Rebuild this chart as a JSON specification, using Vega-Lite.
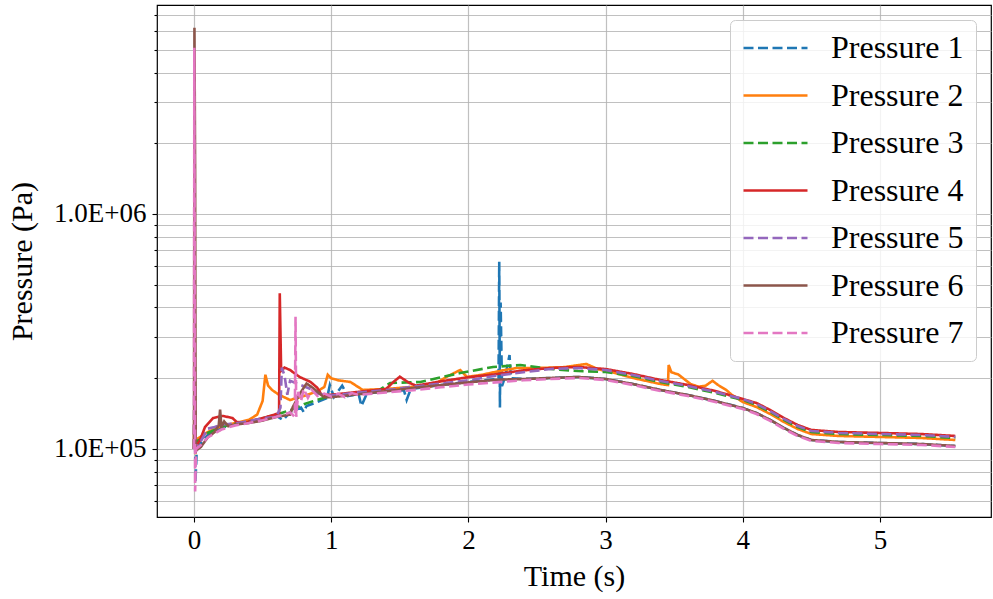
{
"$schema": "https://vega.github.io/schema/vega-lite/v6.json",
"width": 834, "height": 512,
"autosize": {"type": "none"},
"padding": {"left": 157, "top": 5, "right": 2, "bottom": 82},
"background": "white",
"config": {"view": {"stroke": "#000", "strokeWidth": 1.2}, "font": "Liberation Serif"},
"datasets": {
"d": [
{"s":"Pressure 1","t":0,"p":100000},{"s":"Pressure 1","t":0.004,"p":300000},{"s":"Pressure 1","t":0.01,"p":72000},{"s":"Pressure 1","t":0.02,"p":100000},{"s":"Pressure 1","t":0.05,"p":106000},{"s":"Pressure 1","t":0.1,"p":114700},{"s":"Pressure 1","t":0.2,"p":122900},{"s":"Pressure 1","t":0.3,"p":127800},{"s":"Pressure 1","t":0.4,"p":130300},{"s":"Pressure 1","t":0.5,"p":132900},{"s":"Pressure 1","t":0.6,"p":138200},{"s":"Pressure 1","t":0.65,"p":133000},{"s":"Pressure 1","t":0.7,"p":143700},{"s":"Pressure 1","t":0.78,"p":150000},{"s":"Pressure 1","t":0.8,"p":143500},{"s":"Pressure 1","t":0.82,"p":152400},{"s":"Pressure 1","t":0.9,"p":158500},{"s":"Pressure 1","t":0.97,"p":165000},{"s":"Pressure 1","t":0.99,"p":187000},{"s":"Pressure 1","t":1.02,"p":166400},{"s":"Pressure 1","t":1.08,"p":186000},{"s":"Pressure 1","t":1.12,"p":168000},{"s":"Pressure 1","t":1.2,"p":171400},{"s":"Pressure 1","t":1.22,"p":152400},{"s":"Pressure 1","t":1.26,"p":172000},{"s":"Pressure 1","t":1.4,"p":176500},{"s":"Pressure 1","t":1.53,"p":178000},{"s":"Pressure 1","t":1.55,"p":161600},{"s":"Pressure 1","t":1.58,"p":180000},{"s":"Pressure 1","t":1.8,"p":187200},{"s":"Pressure 1","t":2.0,"p":192800},{"s":"Pressure 1","t":2.22,"p":198500},{"s":"Pressure 1","t":2.225,"p":626000},{"s":"Pressure 1","t":2.23,"p":150000},{"s":"Pressure 1","t":2.235,"p":420000},{"s":"Pressure 1","t":2.245,"p":185000},{"s":"Pressure 1","t":2.27,"p":205000},{"s":"Pressure 1","t":2.3,"p":251000},{"s":"Pressure 1","t":2.31,"p":200000},{"s":"Pressure 1","t":2.4,"p":198500},{"s":"Pressure 1","t":2.6,"p":200500},{"s":"Pressure 1","t":2.8,"p":202500},{"s":"Pressure 1","t":3.0,"p":198500},{"s":"Pressure 1","t":3.2,"p":189000},{"s":"Pressure 1","t":3.4,"p":178300},{"s":"Pressure 1","t":3.6,"p":169700},{"s":"Pressure 1","t":3.8,"p":160100},{"s":"Pressure 1","t":4.0,"p":149400},{"s":"Pressure 1","t":4.1,"p":142300},{"s":"Pressure 1","t":4.2,"p":132900},{"s":"Pressure 1","t":4.3,"p":122900},{"s":"Pressure 1","t":4.4,"p":114700},{"s":"Pressure 1","t":4.5,"p":109200},{"s":"Pressure 1","t":4.7,"p":107100},{"s":"Pressure 1","t":5.0,"p":106050},{"s":"Pressure 1","t":5.3,"p":105000},{"s":"Pressure 1","t":5.55,"p":103000},

{"s":"Pressure 2","t":0,"p":100000},{"s":"Pressure 2","t":0.004,"p":240000},{"s":"Pressure 2","t":0.01,"p":95000},{"s":"Pressure 2","t":0.02,"p":110000},{"s":"Pressure 2","t":0.05,"p":113000},{"s":"Pressure 2","t":0.1,"p":118000},{"s":"Pressure 2","t":0.2,"p":125300},{"s":"Pressure 2","t":0.3,"p":129000},{"s":"Pressure 2","t":0.4,"p":133000},{"s":"Pressure 2","t":0.46,"p":140000},{"s":"Pressure 2","t":0.5,"p":160000},{"s":"Pressure 2","t":0.52,"p":207000},{"s":"Pressure 2","t":0.54,"p":186000},{"s":"Pressure 2","t":0.57,"p":178000},{"s":"Pressure 2","t":0.62,"p":170000},{"s":"Pressure 2","t":0.7,"p":161600},{"s":"Pressure 2","t":0.8,"p":168000},{"s":"Pressure 2","t":0.9,"p":176000},{"s":"Pressure 2","t":0.95,"p":183600},{"s":"Pressure 2","t":0.975,"p":207000},{"s":"Pressure 2","t":1.0,"p":200000},{"s":"Pressure 2","t":1.05,"p":196000},{"s":"Pressure 2","t":1.14,"p":192800},{"s":"Pressure 2","t":1.23,"p":178300},{"s":"Pressure 2","t":1.4,"p":180000},{"s":"Pressure 2","t":1.6,"p":184000},{"s":"Pressure 2","t":1.72,"p":183600},{"s":"Pressure 2","t":1.84,"p":202500},{"s":"Pressure 2","t":1.94,"p":216800},{"s":"Pressure 2","t":1.99,"p":202500},{"s":"Pressure 2","t":2.1,"p":207000},{"s":"Pressure 2","t":2.25,"p":216000},{"s":"Pressure 2","t":2.35,"p":221000},{"s":"Pressure 2","t":2.5,"p":221000},{"s":"Pressure 2","t":2.7,"p":223000},{"s":"Pressure 2","t":2.86,"p":230000},{"s":"Pressure 2","t":2.95,"p":218000},{"s":"Pressure 2","t":3.05,"p":212000},{"s":"Pressure 2","t":3.2,"p":200500},{"s":"Pressure 2","t":3.4,"p":189000},{"s":"Pressure 2","t":3.455,"p":187000},{"s":"Pressure 2","t":3.46,"p":227700},{"s":"Pressure 2","t":3.48,"p":212000},{"s":"Pressure 2","t":3.53,"p":207500},{"s":"Pressure 2","t":3.62,"p":189000},{"s":"Pressure 2","t":3.68,"p":184000},{"s":"Pressure 2","t":3.73,"p":186000},{"s":"Pressure 2","t":3.78,"p":195000},{"s":"Pressure 2","t":3.82,"p":187200},{"s":"Pressure 2","t":3.88,"p":178300},{"s":"Pressure 2","t":3.92,"p":170000},{"s":"Pressure 2","t":4.0,"p":158500},{"s":"Pressure 2","t":4.1,"p":150900},{"s":"Pressure 2","t":4.2,"p":140900},{"s":"Pressure 2","t":4.3,"p":130300},{"s":"Pressure 2","t":4.4,"p":121700},{"s":"Pressure 2","t":4.5,"p":115800},{"s":"Pressure 2","t":4.7,"p":113600},{"s":"Pressure 2","t":5.0,"p":112500},{"s":"Pressure 2","t":5.3,"p":111400},{"s":"Pressure 2","t":5.55,"p":109200},

{"s":"Pressure 3","t":0,"p":100000},{"s":"Pressure 3","t":0.004,"p":296000},{"s":"Pressure 3","t":0.01,"p":98000},{"s":"Pressure 3","t":0.02,"p":108000},{"s":"Pressure 3","t":0.05,"p":110000},{"s":"Pressure 3","t":0.1,"p":117000},{"s":"Pressure 3","t":0.2,"p":124000},{"s":"Pressure 3","t":0.3,"p":128000},{"s":"Pressure 3","t":0.4,"p":131000},{"s":"Pressure 3","t":0.5,"p":135000},{"s":"Pressure 3","t":0.6,"p":140000},{"s":"Pressure 3","t":0.7,"p":146000},{"s":"Pressure 3","t":0.8,"p":155000},{"s":"Pressure 3","t":0.9,"p":162000},{"s":"Pressure 3","t":1.0,"p":168000},{"s":"Pressure 3","t":1.2,"p":173000},{"s":"Pressure 3","t":1.35,"p":178000},{"s":"Pressure 3","t":1.43,"p":190900},{"s":"Pressure 3","t":1.65,"p":192800},{"s":"Pressure 3","t":1.94,"p":210500},{"s":"Pressure 3","t":2.18,"p":223300},{"s":"Pressure 3","t":2.38,"p":227700},{"s":"Pressure 3","t":2.6,"p":218900},{"s":"Pressure 3","t":2.8,"p":214700},{"s":"Pressure 3","t":3.0,"p":212600},{"s":"Pressure 3","t":3.2,"p":204400},{"s":"Pressure 3","t":3.4,"p":192800},{"s":"Pressure 3","t":3.6,"p":183600},{"s":"Pressure 3","t":3.8,"p":173100},{"s":"Pressure 3","t":4.0,"p":161600},{"s":"Pressure 3","t":4.1,"p":153900},{"s":"Pressure 3","t":4.2,"p":143700},{"s":"Pressure 3","t":4.3,"p":132900},{"s":"Pressure 3","t":4.4,"p":124100},{"s":"Pressure 3","t":4.5,"p":118100},{"s":"Pressure 3","t":4.7,"p":115800},{"s":"Pressure 3","t":5.0,"p":114700},{"s":"Pressure 3","t":5.3,"p":113600},{"s":"Pressure 3","t":5.55,"p":111400},

{"s":"Pressure 4","t":0,"p":100000},{"s":"Pressure 4","t":0.004,"p":180000},{"s":"Pressure 4","t":0.01,"p":103000},{"s":"Pressure 4","t":0.03,"p":106000},{"s":"Pressure 4","t":0.044,"p":109200},{"s":"Pressure 4","t":0.08,"p":124000},{"s":"Pressure 4","t":0.14,"p":135500},{"s":"Pressure 4","t":0.21,"p":138200},{"s":"Pressure 4","t":0.28,"p":135500},{"s":"Pressure 4","t":0.31,"p":130300},{"s":"Pressure 4","t":0.36,"p":129000},{"s":"Pressure 4","t":0.45,"p":133000},{"s":"Pressure 4","t":0.55,"p":138000},{"s":"Pressure 4","t":0.62,"p":142000},{"s":"Pressure 4","t":0.625,"p":460000},{"s":"Pressure 4","t":0.635,"p":215000},{"s":"Pressure 4","t":0.66,"p":222000},{"s":"Pressure 4","t":0.7,"p":216800},{"s":"Pressure 4","t":0.77,"p":202500},{"s":"Pressure 4","t":0.85,"p":192800},{"s":"Pressure 4","t":0.9,"p":181800},{"s":"Pressure 4","t":0.93,"p":169700},{"s":"Pressure 4","t":1.0,"p":170000},{"s":"Pressure 4","t":1.2,"p":175000},{"s":"Pressure 4","t":1.4,"p":180000},{"s":"Pressure 4","t":1.45,"p":192000},{"s":"Pressure 4","t":1.5,"p":203000},{"s":"Pressure 4","t":1.57,"p":190900},{"s":"Pressure 4","t":1.62,"p":186000},{"s":"Pressure 4","t":1.8,"p":194000},{"s":"Pressure 4","t":2.0,"p":202000},{"s":"Pressure 4","t":2.2,"p":208000},{"s":"Pressure 4","t":2.4,"p":216000},{"s":"Pressure 4","t":2.6,"p":221100},{"s":"Pressure 4","t":2.8,"p":223300},{"s":"Pressure 4","t":3.0,"p":218900},{"s":"Pressure 4","t":3.2,"p":208500},{"s":"Pressure 4","t":3.4,"p":196600},{"s":"Pressure 4","t":3.6,"p":187200},{"s":"Pressure 4","t":3.8,"p":176500},{"s":"Pressure 4","t":4.0,"p":163200},{"s":"Pressure 4","t":4.1,"p":156900},{"s":"Pressure 4","t":4.2,"p":146500},{"s":"Pressure 4","t":4.3,"p":135500},{"s":"Pressure 4","t":4.4,"p":126500},{"s":"Pressure 4","t":4.5,"p":120500},{"s":"Pressure 4","t":4.7,"p":118100},{"s":"Pressure 4","t":5.0,"p":117000},{"s":"Pressure 4","t":5.3,"p":115800},{"s":"Pressure 4","t":5.55,"p":113600},

{"s":"Pressure 5","t":0,"p":100000},{"s":"Pressure 5","t":0.004,"p":200000},{"s":"Pressure 5","t":0.01,"p":96000},{"s":"Pressure 5","t":0.02,"p":104000},{"s":"Pressure 5","t":0.05,"p":108000},{"s":"Pressure 5","t":0.1,"p":122000},{"s":"Pressure 5","t":0.15,"p":124000},{"s":"Pressure 5","t":0.2,"p":127000},{"s":"Pressure 5","t":0.3,"p":128500},{"s":"Pressure 5","t":0.4,"p":131500},{"s":"Pressure 5","t":0.5,"p":135000},{"s":"Pressure 5","t":0.6,"p":137000},{"s":"Pressure 5","t":0.63,"p":150000},{"s":"Pressure 5","t":0.64,"p":222000},{"s":"Pressure 5","t":0.66,"p":205000},{"s":"Pressure 5","t":0.68,"p":170000},{"s":"Pressure 5","t":0.7,"p":195000},{"s":"Pressure 5","t":0.75,"p":190000},{"s":"Pressure 5","t":0.8,"p":185000},{"s":"Pressure 5","t":0.85,"p":180000},{"s":"Pressure 5","t":0.9,"p":172000},{"s":"Pressure 5","t":1.0,"p":169000},{"s":"Pressure 5","t":1.2,"p":174000},{"s":"Pressure 5","t":1.4,"p":178000},{"s":"Pressure 5","t":1.6,"p":184000},{"s":"Pressure 5","t":1.8,"p":190000},{"s":"Pressure 5","t":2.0,"p":196000},{"s":"Pressure 5","t":2.2,"p":205000},{"s":"Pressure 5","t":2.4,"p":212000},{"s":"Pressure 5","t":2.6,"p":218900},{"s":"Pressure 5","t":2.8,"p":221100},{"s":"Pressure 5","t":3.0,"p":216800},{"s":"Pressure 5","t":3.2,"p":206500},{"s":"Pressure 5","t":3.4,"p":194700},{"s":"Pressure 5","t":3.6,"p":185400},{"s":"Pressure 5","t":3.8,"p":174800},{"s":"Pressure 5","t":4.0,"p":163200},{"s":"Pressure 5","t":4.1,"p":155400},{"s":"Pressure 5","t":4.2,"p":145100},{"s":"Pressure 5","t":4.3,"p":134200},{"s":"Pressure 5","t":4.4,"p":125300},{"s":"Pressure 5","t":4.5,"p":119300},{"s":"Pressure 5","t":4.7,"p":117000},{"s":"Pressure 5","t":5.0,"p":115800},{"s":"Pressure 5","t":5.3,"p":114700},{"s":"Pressure 5","t":5.55,"p":112500},

{"s":"Pressure 6","t":0,"p":100000},{"s":"Pressure 6","t":0.003,"p":6200000},{"s":"Pressure 6","t":0.008,"p":1500000},{"s":"Pressure 6","t":0.012,"p":98000},{"s":"Pressure 6","t":0.02,"p":99000},{"s":"Pressure 6","t":0.05,"p":102000},{"s":"Pressure 6","t":0.1,"p":112000},{"s":"Pressure 6","t":0.15,"p":118000},{"s":"Pressure 6","t":0.18,"p":126000},{"s":"Pressure 6","t":0.19,"p":147000},{"s":"Pressure 6","t":0.2,"p":124000},{"s":"Pressure 6","t":0.22,"p":131000},{"s":"Pressure 6","t":0.25,"p":125000},{"s":"Pressure 6","t":0.3,"p":127000},{"s":"Pressure 6","t":0.4,"p":129000},{"s":"Pressure 6","t":0.5,"p":132000},{"s":"Pressure 6","t":0.6,"p":137000},{"s":"Pressure 6","t":0.7,"p":140000},{"s":"Pressure 6","t":0.72,"p":151000},{"s":"Pressure 6","t":0.78,"p":175000},{"s":"Pressure 6","t":0.82,"p":190000},{"s":"Pressure 6","t":0.86,"p":183000},{"s":"Pressure 6","t":0.95,"p":166000},{"s":"Pressure 6","t":1.0,"p":166000},{"s":"Pressure 6","t":1.2,"p":171000},{"s":"Pressure 6","t":1.4,"p":176000},{"s":"Pressure 6","t":1.6,"p":182000},{"s":"Pressure 6","t":1.8,"p":187000},{"s":"Pressure 6","t":2.0,"p":192000},{"s":"Pressure 6","t":2.2,"p":197000},{"s":"Pressure 6","t":2.4,"p":198500},{"s":"Pressure 6","t":2.6,"p":200500},{"s":"Pressure 6","t":2.8,"p":202500},{"s":"Pressure 6","t":3.0,"p":198500},{"s":"Pressure 6","t":3.2,"p":189000},{"s":"Pressure 6","t":3.4,"p":178300},{"s":"Pressure 6","t":3.6,"p":169700},{"s":"Pressure 6","t":3.8,"p":160100},{"s":"Pressure 6","t":4.0,"p":149400},{"s":"Pressure 6","t":4.1,"p":142300},{"s":"Pressure 6","t":4.2,"p":132900},{"s":"Pressure 6","t":4.3,"p":122900},{"s":"Pressure 6","t":4.4,"p":114700},{"s":"Pressure 6","t":4.5,"p":109200},{"s":"Pressure 6","t":4.7,"p":107100},{"s":"Pressure 6","t":5.0,"p":106050},{"s":"Pressure 6","t":5.3,"p":105000},{"s":"Pressure 6","t":5.55,"p":103000},

{"s":"Pressure 7","t":0,"p":100000},{"s":"Pressure 7","t":0.002,"p":5100000},{"s":"Pressure 7","t":0.008,"p":66000},{"s":"Pressure 7","t":0.015,"p":100000},{"s":"Pressure 7","t":0.05,"p":104000},{"s":"Pressure 7","t":0.1,"p":112000},{"s":"Pressure 7","t":0.2,"p":121000},{"s":"Pressure 7","t":0.3,"p":126000},{"s":"Pressure 7","t":0.4,"p":129000},{"s":"Pressure 7","t":0.5,"p":132500},{"s":"Pressure 7","t":0.6,"p":137000},{"s":"Pressure 7","t":0.7,"p":143000},{"s":"Pressure 7","t":0.735,"p":137000},{"s":"Pressure 7","t":0.74,"p":365000},{"s":"Pressure 7","t":0.745,"p":137000},{"s":"Pressure 7","t":0.76,"p":175000},{"s":"Pressure 7","t":0.78,"p":160000},{"s":"Pressure 7","t":0.8,"p":180000},{"s":"Pressure 7","t":0.83,"p":165000},{"s":"Pressure 7","t":0.86,"p":178000},{"s":"Pressure 7","t":0.9,"p":168000},{"s":"Pressure 7","t":0.95,"p":172000},{"s":"Pressure 7","t":1.0,"p":167000},{"s":"Pressure 7","t":1.05,"p":172000},{"s":"Pressure 7","t":1.1,"p":166000},{"s":"Pressure 7","t":1.15,"p":173000},{"s":"Pressure 7","t":1.2,"p":170000},{"s":"Pressure 7","t":1.4,"p":174000},{"s":"Pressure 7","t":1.6,"p":178000},{"s":"Pressure 7","t":1.8,"p":183000},{"s":"Pressure 7","t":2.0,"p":188000},{"s":"Pressure 7","t":2.2,"p":192000},{"s":"Pressure 7","t":2.4,"p":196000},{"s":"Pressure 7","t":2.6,"p":198500},{"s":"Pressure 7","t":2.8,"p":200500},{"s":"Pressure 7","t":3.0,"p":196600},{"s":"Pressure 7","t":3.2,"p":187200},{"s":"Pressure 7","t":3.4,"p":176500},{"s":"Pressure 7","t":3.6,"p":168100},{"s":"Pressure 7","t":3.8,"p":158500},{"s":"Pressure 7","t":4.0,"p":147900},{"s":"Pressure 7","t":4.1,"p":140900},{"s":"Pressure 7","t":4.2,"p":131600},{"s":"Pressure 7","t":4.3,"p":121700},{"s":"Pressure 7","t":4.4,"p":113600},{"s":"Pressure 7","t":4.5,"p":108200},{"s":"Pressure 7","t":4.7,"p":106050},{"s":"Pressure 7","t":5.0,"p":105000},{"s":"Pressure 7","t":5.3,"p":104000},{"s":"Pressure 7","t":5.55,"p":102000}
]
},
"data": {"name": "d"},
"mark": {"type": "line", "strokeWidth": 2.6, "clip": true},
"encoding": {
"x": {"field": "t", "type": "quantitative",
 "scale": {"domain": [-0.27, 5.81], "nice": false, "zero": false},
 "axis": {"title": "Time (s)", "values": [0,1,2,3,4,5], "format": "d", "domain": false,
  "labelFont": "Liberation Serif", "labelFontSize": 27, "labelColor": "#000",
  "titleFont": "Liberation Serif", "titleFontSize": 30, "titleFontWeight": "normal", "titleColor": "#000", "titlePadding": 8,
  "tickColor": "#000", "tickSize": 5, "tickWidth": 1.1, "labelPadding": 5,
  "gridColor": "#b0b0b0", "gridWidth": 1.2, "gridOpacity": 0.8}},
"y": {"field": "p", "type": "quantitative",
 "scale": {"type": "log", "domain": [51350, 7750000], "nice": false},
 "axis": {"title": "Pressure (Pa)", "domain": false,
  "values": [60000,70000,80000,90000,100000,200000,300000,400000,500000,600000,700000,800000,900000,1000000,2000000,3000000,4000000,5000000,6000000,7000000],
  "labelExpr": "datum.value == 100000 ? '1.0E+05' : (datum.value == 1000000 ? '1.0E+06' : '')",
  "labelFont": "Liberation Serif", "labelFontSize": 27, "labelColor": "#000", "labelPadding": 6,
  "titleFont": "Liberation Serif", "titleFontSize": 30, "titleFontWeight": "normal", "titleColor": "#000", "titlePadding": 16,
  "tickColor": "#000", "tickWidth": 1.1,
  "tickSize": {"condition": {"test": "datum.value == 100000 || datum.value == 1000000", "value": 5}, "value": 3},
  "gridColor": "#b0b0b0", "gridWidth": 1.2, "gridOpacity": 0.8}},
"color": {"field": "s", "type": "nominal",
 "scale": {"domain": ["Pressure 1","Pressure 2","Pressure 3","Pressure 4","Pressure 5","Pressure 6","Pressure 7"],
  "range": ["#1f77b4","#ff7f0e","#2ca02c","#d62728","#9467bd","#8c564b","#e377c2"]},
 "legend": {"title": null, "orient": "none", "legendX": 573, "legendY": 15, "symbolType": "stroke", "symbolSize": 4096, "symbolStrokeWidth": 2.6,
  "labelFont": "Liberation Serif", "labelFontSize": 32, "labelColor": "#000", "labelOffset": 22, "padding": 12, "rowPadding": 15.5, "clipHeight": 32,
  "fillColor": "rgba(255,255,255,0.8)", "strokeColor": "#cccccc", "cornerRadius": 5}},
"strokeDash": {"field": "s", "type": "nominal",
 "scale": {"domain": ["Pressure 1","Pressure 2","Pressure 3","Pressure 4","Pressure 5","Pressure 6","Pressure 7"],
  "range": [[10,4.5],[1,0],[10,4.5],[1,0],[10,4.5],[1,0],[10,4.5]]},
 "legend": {"title": null, "orient": "none", "legendX": 573, "legendY": 15, "symbolType": "stroke", "symbolSize": 4096, "symbolStrokeWidth": 2.6,
  "labelFont": "Liberation Serif", "labelFontSize": 32, "labelColor": "#000", "labelOffset": 22, "padding": 12, "rowPadding": 15.5, "clipHeight": 32,
  "fillColor": "rgba(255,255,255,0.8)", "strokeColor": "#cccccc", "cornerRadius": 5}}
}
}
